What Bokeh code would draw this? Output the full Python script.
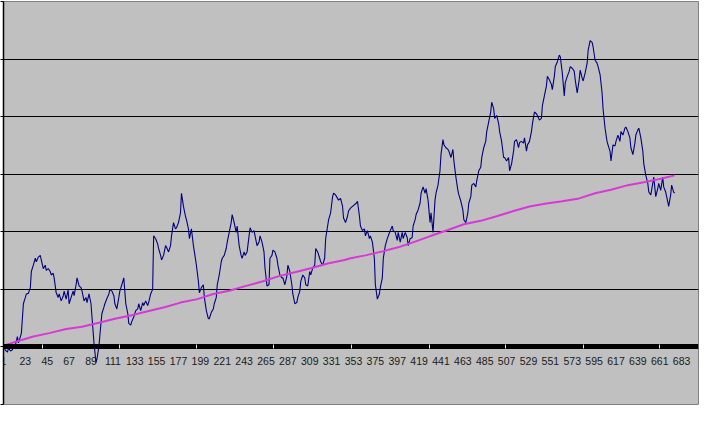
from bokeh.plotting import figure
from bokeh.models import LinearAxis, FixedTicker, Grid, Range1d, CustomJSTickFormatter
from bokeh.embed import file_html
from bokeh.resources import INLINE

# ---- data ----
NAVY_X = [1, 3, 5, 6, 8, 10, 11, 13, 15, 16, 18, 19, 21, 23, 24, 26, 28, 29, 31, 33, 34, 36, 38, 39, 41, 43, 44, 46, 48, 49,
          51, 52, 54, 56, 57, 59, 61, 62, 64, 66, 67, 69, 71, 72, 74, 75, 77, 79, 80, 82, 84, 85, 87, 89, 90, 92, 94, 95, 97, 99,
          100, 102, 103, 105, 107, 108, 110, 112, 113, 115, 117, 118, 120, 122, 123, 124, 126, 127, 129, 130, 132, 134, 136, 137, 139, 141, 142, 144, 146, 147,
          149, 151, 152, 154, 156, 157, 159, 160, 162, 164, 165, 167, 169, 170, 172, 174, 175, 177, 179, 180, 182, 184, 185, 187, 188, 190, 192, 193, 195, 197,
          198, 200, 202, 203, 205, 207, 208, 210, 212, 213, 215, 216, 218, 220, 221, 223, 225, 226, 228, 230, 231, 233, 235, 236, 238, 240, 241, 243, 244, 246,
          248, 249, 251, 253, 254, 256, 258, 259, 261, 263, 264, 266, 268, 269, 271, 272, 274, 276, 277, 279, 281, 282, 284, 286, 287, 289, 291, 292, 294, 296,
          297, 299, 300, 302, 304, 305, 307, 309, 310, 312, 314, 315, 317, 319, 320, 322, 324, 325, 327, 328, 330, 332, 333, 335, 337, 338, 340, 342, 343, 345,
          347, 348, 350, 352, 356, 357, 359, 360, 362, 364, 365, 367, 369, 370, 372, 374, 375, 377, 379, 380, 382, 383, 385, 387, 388, 390, 392, 393, 395, 397,
          398, 400, 402, 403, 405, 407, 408, 410, 412, 413, 415, 416, 418, 420, 421, 423, 425, 426, 428, 430, 431, 433, 435, 436, 438, 440, 441, 443, 444, 446,
          448, 449, 451, 453, 454, 456, 458, 459, 461, 463, 464, 466, 468, 469, 471, 472, 474, 476, 477, 479, 481, 482, 484, 486, 487, 489, 491, 492, 494, 495,
          497, 499, 500, 502, 504, 505, 507, 509, 510, 512, 514, 515, 517, 519, 520, 522, 524, 525, 527, 528, 530, 532, 533, 535, 537, 538, 540, 542, 543, 545,
          547, 548, 550, 552, 553, 555, 556, 558, 560, 561, 563, 565, 566, 568, 570, 571, 573, 575, 576, 578, 580, 581, 583, 584, 586, 588, 589, 591, 593, 594,
          596, 598, 599, 601, 603, 604, 606, 608, 609, 611, 612, 614, 616, 617, 619, 621, 622, 624, 626, 627, 629, 631, 632, 634, 636, 637, 639, 640, 642, 644,
          645, 647, 649, 650, 652, 654, 655, 657, 659, 660, 662, 664, 665, 667, 669, 670, 672, 673, 675, 676]
NAVY_Y = [0.01, -0.06, -0.09, -0.02, -0.07, -0.05, 0.01, 0.04, 0.18, 0.07, 0.18, 0.24, 0.75, 0.86, 0.92, 0.93, 1.03, 1.31, 1.42, 1.54, 1.48, 1.56, 1.59, 1.51, 1.36, 1.42, 1.33, 1.36, 1.31, 1.25,
          1.28, 1.19, 0.94, 0.86, 0.92, 0.80, 0.88, 0.97, 0.83, 0.99, 0.75, 0.86, 0.97, 0.89, 1.08, 1.20, 1.06, 1.03, 0.97, 0.80, 0.86, 0.77, 0.92, 0.75, 0.52, 0.07, -0.27, -0.21, 0.01, 0.41,
          0.58, 0.69, 0.75, 0.84, 0.92, 1.00, 0.97, 0.89, 0.75, 0.66, 0.86, 0.97, 1.08, 1.20, 0.97, 0.75, 0.58, 0.41, 0.38, 0.44, 0.52, 0.63, 0.66, 0.75, 0.63, 0.77, 0.72, 0.80, 0.72, 0.77,
          0.92, 1.00, 1.93, 1.88, 1.79, 1.71, 1.59, 1.51, 1.59, 1.76, 1.73, 1.65, 1.76, 1.93, 2.16, 2.05, 2.07, 2.16, 2.33, 2.67, 2.44, 2.27, 2.21, 2.05, 1.88, 2.05, 1.76, 1.65, 1.42, 1.14,
          0.94, 1.03, 1.08, 0.86, 0.63, 0.49, 0.49, 0.60, 0.66, 0.75, 0.86, 1.08, 1.25, 1.48, 1.54, 1.59, 1.71, 1.82, 1.99, 2.16, 2.30, 2.16, 1.99, 2.10, 1.76, 1.59, 1.54, 1.65, 1.59, 1.65,
          1.93, 2.07, 1.99, 2.02, 1.93, 1.76, 1.82, 1.93, 1.82, 1.65, 1.37, 1.06, 1.08, 1.54, 1.59, 1.68, 1.65, 1.54, 1.42, 1.25, 1.20, 1.20, 1.08, 1.23, 1.42, 1.31, 1.08, 0.92, 0.75, 0.77,
          0.86, 0.97, 1.14, 1.25, 1.20, 1.08, 1.06, 1.31, 1.25, 1.37, 1.42, 1.71, 1.65, 1.54, 1.48, 1.42, 1.54, 1.88, 2.10, 2.21, 2.33, 2.61, 2.67, 2.64, 2.58, 2.55, 2.58, 2.44, 2.24, 2.16,
          2.27, 2.36, 2.41, 2.44, 2.50, 2.53, 2.27, 2.10, 2.02, 2.05, 1.93, 2.02, 1.88, 1.93, 1.82, 1.54, 1.08, 0.83, 0.92, 1.03, 1.20, 1.54, 1.76, 1.88, 1.93, 2.02, 2.10, 2.02, 1.99, 1.85,
          1.99, 1.82, 1.99, 1.88, 1.99, 1.90, 1.76, 1.88, 1.90, 2.10, 2.21, 2.30, 2.38, 2.50, 2.67, 2.78, 2.67, 2.75, 2.55, 2.16, 2.33, 1.99, 2.55, 2.67, 2.81, 3.06, 3.34, 3.60, 3.51, 3.46,
          3.43, 3.40, 3.29, 3.43, 3.23, 2.95, 2.72, 2.64, 2.53, 2.38, 2.21, 2.16, 2.33, 2.50, 2.61, 2.81, 2.84, 2.78, 2.89, 3.06, 3.12, 3.29, 3.46, 3.57, 3.74, 3.91, 4.08, 4.25, 4.14, 3.97,
          4.02, 3.88, 3.74, 3.57, 3.29, 3.29, 3.23, 3.29, 3.06, 3.18, 3.40, 3.57, 3.60, 3.46, 3.55, 3.57, 3.54, 3.63, 3.40, 3.51, 3.57, 3.74, 3.88, 4.08, 4.05, 4.02, 3.94, 3.97, 4.19, 4.36,
          4.53, 4.70, 4.64, 4.56, 4.47, 4.70, 4.87, 4.95, 5.07, 5.04, 4.76, 4.36, 4.59, 4.70, 4.79, 4.87, 4.84, 4.79, 4.64, 4.41, 4.64, 4.81, 4.67, 4.62, 4.76, 4.93, 5.15, 5.32, 5.29, 5.21,
          4.98, 4.93, 4.87, 4.73, 4.42, 4.14, 3.80, 3.57, 3.51, 3.40, 3.23, 3.51, 3.49, 3.57, 3.68, 3.57, 3.74, 3.68, 3.80, 3.82, 3.74, 3.63, 3.46, 3.34, 3.54, 3.68, 3.77, 3.80, 3.63, 3.40,
          3.18, 2.98, 2.84, 2.69, 2.64, 2.84, 2.95, 2.61, 2.75, 2.84, 2.72, 2.95, 2.78, 2.69, 2.53, 2.44, 2.64, 2.81, 2.69, 2.67]

TREND_X = [1, 15, 31, 47, 64, 80, 97, 113, 130, 146, 163, 179, 196, 212, 229, 245, 262, 278, 295, 311, 327, 344, 350,
           365, 382, 398, 415, 431, 448, 464, 481, 497, 514, 530, 547, 563, 580, 596, 612, 629, 645, 662, 676]
TREND_Y = [0.02, 0.10, 0.18, 0.24, 0.31, 0.35, 0.42, 0.49, 0.55, 0.62, 0.69, 0.77, 0.83, 0.92, 0.98, 1.06, 1.14, 1.23, 1.30, 1.37, 1.45, 1.51, 1.54,
           1.59, 1.66, 1.73, 1.83, 1.93, 2.03, 2.13, 2.19, 2.27, 2.36, 2.44, 2.49, 2.53, 2.58, 2.67, 2.73, 2.81, 2.86, 2.92, 2.98]

CATEGORY_LABELS = [1, 23, 45, 67, 89, 111, 133, 155, 177, 199, 221, 243, 265, 287, 309, 331, 353, 375, 397, 419, 441,
                   463, 485, 507, 529, 551, 573, 595, 617, 639, 661, 683]
X_TICK_MARKS = [40, 118, 195, 273, 351, 429, 506, 584, 661]
Y_TICKS = [-1, 0, 1, 2, 3, 4, 5, 6]
Y_GRID = [1, 2, 3, 4, 5]

p = figure(width=699, height=405, output_backend="svg", toolbar_location=None,
           x_axis_type=None, y_axis_type=None,
           x_range=Range1d(1, 700), y_range=Range1d(-1, 6),
           min_border_left=0, min_border_right=1, min_border_top=1, min_border_bottom=1)
p.background_fill_color = "#c0c0c0"
p.border_fill_color = "white"
p.outline_line_color = "#808080"
p.outline_line_width = 1

empty = CustomJSTickFormatter(code="return ''")

yaxis = LinearAxis(ticker=FixedTicker(ticks=Y_TICKS), formatter=empty,
                   major_tick_out=3, major_tick_in=0, minor_tick_out=0, minor_tick_in=0,
                   major_tick_line_color="black", axis_line_color="black", axis_line_width=1.5,
                   major_label_standoff=0, major_label_text_font_size="1px")
p.add_layout(yaxis, "left")

grid = Grid(dimension=1, ticker=FixedTicker(ticks=Y_GRID), grid_line_color="black", grid_line_width=1)
p.add_layout(grid)

p.line(NAVY_X, NAVY_Y, line_color="#000080", line_width=1.1)
p.line(TREND_X, TREND_Y, line_color="#d838d8", line_width=2)

xaxis = LinearAxis(fixed_location=0, ticker=FixedTicker(ticks=CATEGORY_LABELS),
                   major_tick_out=0, major_tick_in=0, minor_tick_out=0, minor_tick_in=0,
                   axis_line_color="black", axis_line_width=5,
                   major_label_standoff=10,
                   major_label_text_font="Liberation Sans", major_label_text_font_size="10.5px",
                   major_label_text_color="#1a1a1a")
p.add_layout(xaxis, "below")

xticks = LinearAxis(fixed_location=0, ticker=FixedTicker(ticks=X_TICK_MARKS), formatter=empty,
                    major_tick_out=2, major_tick_in=2, minor_tick_out=0, minor_tick_in=0,
                    major_tick_line_color="#e6e6e6", axis_line_color=None,
                    major_label_text_font_size="1px", major_label_standoff=0)
p.add_layout(xticks, "below")

open("out.html", "w").write(file_html(p, INLINE))
